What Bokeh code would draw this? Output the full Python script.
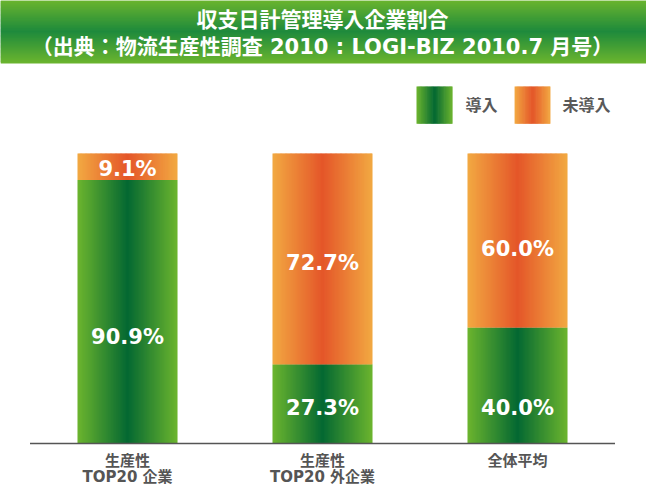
from bokeh.plotting import figure
from bokeh.models import Range1d
from bokeh.core.properties import value
from bokeh.embed import file_html
from bokeh.resources import INLINE

# ---- data ----
categories = ["生産性\nTOP20 企業", "生産性\nTOP20 外企業", "全体平均"]
adopted = [90.9, 27.3, 40.0]        # 導入
not_adopted = [9.1, 72.7, 60.0]     # 未導入
series_names = ["導入", "未導入"]
title_lines = ["収支日計管理導入企業割合",
               "（出典：物流生産性調査 2010 : LOGI-BIZ 2010.7 月号）"]

# label placement (data units) - layout only
label_y_adopted = [36.6, 12.4, 12.4]
label_y_not = [94.8, 62.4, 66.9]

# ---- style ----
GREEN_EDGE = (108, 181, 46)
GREEN_MID = (4, 104, 50)
ORANGE_EDGE = (242, 169, 66)
ORANGE_MID = (228, 86, 41)
TITLE_EDGE = (106, 180, 46)
TITLE_MID = (30, 138, 60)
BAR_W = 0.513
NSTRIP = 80
FONT_MIX = "DejaVu Sans, Noto Sans CJK JP"
X0, X1 = -0.6513, 2.6615
Y0, Y1 = -14.48, 152.76


def lerp(c1, c2, t):
    return "#%02x%02x%02x" % tuple(int(round(a + (b - a) * t)) for a, b in zip(c1, c2))


def hgrad(edge, mid, n):
    cols = []
    for k in range(n):
        t = abs((k + 0.5) / n * 2 - 1)  # 0 center, 1 edge
        cols.append(lerp(mid, edge, t))
    return cols


p = figure(width=646, height=485, output_backend="svg", toolbar_location=None,
           x_range=Range1d(X0, X1), y_range=Range1d(Y0, Y1),
           x_axis_location=None, y_axis_location=None,
           min_border_left=0, min_border_right=0,
           min_border_top=0, min_border_bottom=0)
p.grid.visible = False
p.outline_line_color = None
p.background_fill_color = "white"
p.border_fill_color = "white"


def grad_rect(x0, x1, y0, y1, edge, mid, n=NSTRIP):
    cols = hgrad(edge, mid, n)
    w = (x1 - x0) / n
    lefts = [x0 + k * w for k in range(n)]
    rights = [min(x1, x0 + (k + 1.6) * w) for k in range(n)]
    p.quad(left=lefts, right=rights, bottom=[y0] * n, top=[y1] * n,
           fill_color=cols, line_color=None)


# ---- title band (vertical gradient) ----
band_bottom, band_top, band_center, band_half = 131.03, Y1, 142.07, 10.7
nb = 60
ys = [band_bottom + (band_top - band_bottom) * k / nb for k in range(nb + 1)]
bcols = []
for k in range(nb):
    yc = (ys[k] + ys[k + 1]) / 2
    t = min(1.0, abs(yc - band_center) / band_half)
    bcols.append(lerp(TITLE_MID, TITLE_EDGE, t))
p.quad(left=[X0] * nb, right=[X1] * nb, bottom=ys[:-1],
       top=[min(band_top, y + 0.5) for y in ys[1:]],
       fill_color=bcols, line_color=None)

p.text(x=[1.0, 1.0], y=[145.9, 136.6], text=title_lines,
       text_align="center", text_baseline="middle", text_color="white",
       text_font=value(FONT_MIX), text_font_style="bold",
       text_font_size="21px")

# ---- stacked bars ----
for i, (a, n) in enumerate(zip(adopted, not_adopted)):
    x0, x1 = i - BAR_W / 2, i + BAR_W / 2
    grad_rect(x0, x1, 0, a, GREEN_EDGE, GREEN_MID)
    grad_rect(x0, x1, a, a + n, ORANGE_EDGE, ORANGE_MID)

xs = list(range(len(categories)))
p.text(x=xs, y=label_y_adopted, text=["%.1f%%" % v for v in adopted],
       text_align="center", text_baseline="middle", text_color="white",
       text_font=value("DejaVu Sans"), text_font_style="bold", text_font_size="21px")
p.text(x=xs, y=label_y_not, text=["%.1f%%" % v for v in not_adopted],
       text_align="center", text_baseline="middle", text_color="white",
       text_font=value("DejaVu Sans"), text_font_style="bold", text_font_size="21px")

# ---- baseline ----
p.segment(x0=[-0.5], y0=[0], x1=[len(categories) - 0.5], y1=[0],
          line_color="#555555", line_width=1.6)

# ---- category labels (below baseline) ----
LINE1_Y, LINE_STEP = -6.0, -5.5
cx, cy, ct = [], [], []
for i, c in enumerate(categories):
    for k, line in enumerate(c.split("\n")):
        cx.append(i)
        cy.append(LINE1_Y + k * LINE_STEP)
        ct.append(line)
p.text(x=cx, y=cy, text=ct, text_align="center", text_baseline="middle",
       text_color="#555555", text_font=value(FONT_MIX), text_font_style="bold",
       text_font_size="15px")

# ---- legend ----
grad_rect(1.482, 1.667, 110.3, 123.1, GREEN_EDGE, GREEN_MID, n=30)
grad_rect(1.985, 2.169, 110.3, 123.1, ORANGE_EDGE, ORANGE_MID, n=30)
p.text(x=[1.733, 2.231], y=[117.1, 117.1], text=series_names,
       text_align="left", text_baseline="middle", text_color="#595959",
       text_font=value("Noto Sans CJK JP"), text_font_style="bold",
       text_font_size="16px")

open("out.html", "w").write(file_html(p, INLINE))
